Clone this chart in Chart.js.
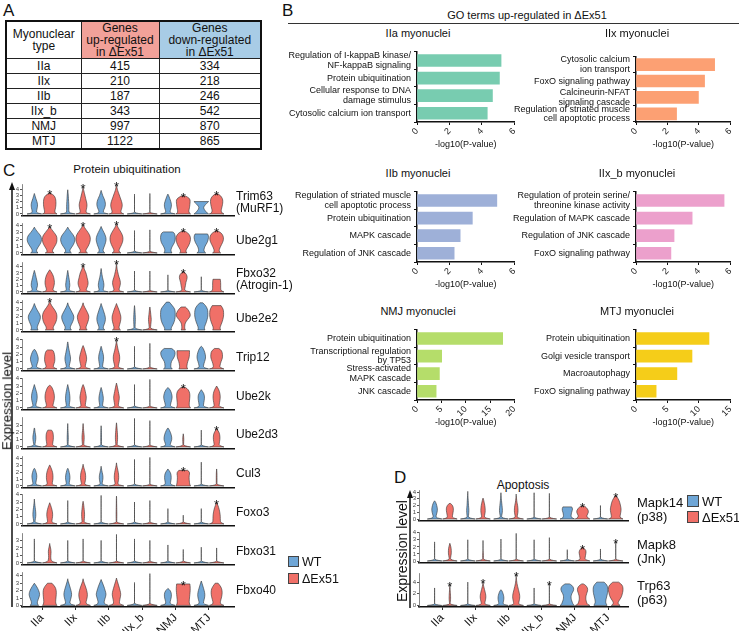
<!DOCTYPE html>
<html>
<head>
<meta charset="utf-8">
<script src="https://cdn.jsdelivr.net/npm/chart.js@4.4.1/dist/chart.umd.min.js"></script>
<style>
  body { margin: 0; background: #fff; font-family: "Liberation Sans", Arial, sans-serif; color: #111; }
  #fig { position: relative; width: 739px; height: 631px; overflow: hidden; }
  #fig canvas { position: absolute; }
  .t { position: absolute; white-space: nowrap; line-height: 1; }
  .c { transform: translate(-50%, -50%); text-align: center; }
  .letter { font-size: 17px; }
  .gene { font-size: 12px; line-height: 12px; transform: translateY(-50%); }
  .box { position: absolute; width: 11px; height: 11px; border: 1px solid #444; box-sizing: border-box; }
  table { position: absolute; left: 5px; top: 20px; width: 255px; height: 128px; border-collapse: collapse; border: 2px solid #111; font-size: 12px; text-align: center; table-layout: fixed; }
  th, td { border: 1px solid #222; padding: 0; font-weight: normal; }
  th { height: 36px; line-height: 12px; }
  td { height: 14px; line-height: 14px; }
  th.up { background: #f2a199; }
  th.down { background: #a8cce6; }
  svg { position: absolute; left: 0; top: 0; }
</style>
</head>
<body>
<div id="fig"></div>
<script>
// ---- 表 (A) ----
const TYPES = ['IIa', 'IIx', 'IIb', 'IIx_b', 'NMJ', 'MTJ'];
const UP_GENES = [415, 210, 187, 343, 997, 1122];
const DOWN_GENES = [334, 218, 246, 542, 870, 865];

// ---- GO terms (B) ----
const GO_PANELS = ['IIa myonuclei', 'IIx myonuclei', 'IIb myonuclei', 'IIx_b myonuclei', 'NMJ myonuclei', 'MTJ myonuclei'];
const GO_TERMS = [
  [['Regulation of I-kappaB kinase/', 'NF-kappaB signaling'], 'Protein ubiquitination', ['Cellular response to DNA', 'damage stimulus'], 'Cytosolic calcium ion transport'],
  [['Cytosolic calcium', 'ion transport'], 'FoxO signaling pathway', ['Calcineurin-NFAT', 'signaling cascade'], ['Regulation of striated muscle', 'cell apoptotic process']],
  [['Regulation of striated muscle', 'cell apoptotic process'], 'Protein ubiquitination', 'MAPK cascade', 'Regulation of JNK cascade'],
  [['Regulation of protein serine/', 'threonine kinase activity'], 'Regulation of MAPK cascade', 'Regulation of JNK cascade', 'FoxO signaling pathway'],
  ['Protein ubiquitination', ['Transcriptional regulation', 'by TP53'], ['Stress-activated', 'MAPK cascade'], 'JNK cascade'],
  ['Protein ubiquitination', 'Golgi vesicle transport', 'Macroautophagy', 'FoxO signaling pathway']
];
const GO_VALUES = [
  [5.18, 5.08, 4.65, 4.33],
  [5.0, 4.36, 3.97, 2.58],
  [4.92, 3.41, 2.66, 2.29],
  [5.6, 3.57, 2.42, 2.22],
  [17.6, 5.07, 4.6, 3.93],
  [11.6, 8.9, 6.5, 3.2]
];
const GO_TICKS = [[0, 2, 4, 6], [0, 2, 4, 6], [0, 2, 4, 6], [0, 2, 4, 6], [0, 5, 10, 15, 20], [0, 5, 10, 15]];
const GO_COLORS = ['#78ccb0', '#fca073', '#9eb0d8', '#eca0cc', '#b5dd6a', '#f5cd19'];

// ---- violin (C, D) ----
// 各バイオリン: [最大値, 最大値での幅, LEVELSでの幅...] 幅は 0..1
const LEVELS = [0, 0.15, 0.5, 1, 1.5, 2, 2.5, 3, 3.5, 4, 4.5, 5];

const C_GENES = [['Trim63', '(MuRF1)'], ['Ube2g1'], ['Fbxo32', '(Atrogin-1)'], ['Ube2e2'], ['Trip12'], ['Ube2k'], ['Ube2d3'], ['Cul3'], ['Foxo3'], ['Fbxo31'], ['Fbxo40']];
const C_YTICKS = [[0,1,2,3,4],[0,1,2,3,4],[0,1,2,3,4],[0,1,2,3,4],[0,1,2,3,4],[0,1,2,3,4],[0,1,2,3],[0,1,2,3,4],[0,1,2,3,4],[0,1,2,3],[0,1,2,3,4]];
const C_STARS = [[0,1,2,4,5],[0,1,2,4,5],[1,2,4],[0],[2],[4],[5],[4],[5],[],[4]];

const C_WT = [
  [[3.3,0,1,0.3,0.3,0.4,0.45,0.35,0.2,0.08],[3.9,0,1,0.2,0.15,0.15,0.15,0.12,0.1,0.07,0.04],[3.8,0,1,0.3,0.3,0.5,0.6,0.55,0.4,0.2,0.08],[3.2,0,1],[3.2,0,1,0.3,0.3,0.45,0.5,0.4,0.25,0.1],[2.0,1,1,0.8,0.55,0.25,0.55]],
  [[3.8,0,0.5,0.3,0.3,0.6,0.9,1,0.9,0.5,0.15],[3.8,0,0.5,0.3,0.3,0.65,0.9,1,0.85,0.5,0.15],[3.9,0,0.5,0.3,0.25,0.45,0.6,0.7,0.6,0.4,0.15],[3.3,0,1],[3.1,0.6,0.55,0.45,0.4,0.6,0.9,1,1,0.85],[2.8,0.85,0.6,0.4,0.35,0.5,0.8,0.95,1]],
  [[3.4,0,1,0.3,0.3,0.45,0.4,0.3,0.2,0.1],[3.4,0,1,0.2,0.2,0.3,0.25,0.2,0.12,0.06],[3.7,0,1,0.25,0.3,0.4,0.35,0.25,0.15,0.08,0.03],[3.3,0,1],[2.7,0,1],[2.4,0,1]],
  [[3.8,0,0.5,0.4,0.4,0.6,0.8,0.85,0.6,0.3,0.1],[3.9,0,0.5,0.35,0.35,0.6,0.8,0.85,0.6,0.35,0.1],[3.8,0,0.5,0.3,0.3,0.5,0.6,0.55,0.4,0.25,0.08],[3.5,0,1,0.1,0.08,0.1,0.12,0.1,0.08,0.05],[4.0,0.2,0.5,0.4,0.55,0.8,0.95,1,1,0.95,0.6],[3.9,0.2,0.5,0.4,0.45,0.65,0.8,0.9,0.9,0.85,0.6]],
  [[2.7,0,1,0.3,0.3,0.5,0.55,0.4,0.2],[3.7,0,1,0.2,0.2,0.35,0.4,0.3,0.2,0.1,0.05],[3.1,0,1,0.2,0.2,0.3,0.35,0.3,0.15,0.05],[3.1,0,1],[2.8,0.5,0.6,0.4,0.4,0.45,0.8,1,0.95],[3.1,0,1,0.3,0.3,0.45,0.6,0.55,0.4,0.15]],
  [[3.2,0,1,0.2,0.2,0.35,0.4,0.35,0.2,0.06],[3.2,0,1,0.2,0.2,0.3,0.3,0.25,0.15,0.05],[2.8,0,1,0.2,0.2,0.3,0.3,0.2,0.1],[3.2,0,1],[2.8,0,1,0.35,0.35,0.5,0.6,0.5,0.3],[2.5,0,1,0.3,0.3,0.4,0.45,0.35]],
  [[2.6,0,1,0.08,0.1,0.2,0.2,0.1,0.05],[3.2,0,1,0.05,0.05,0.08,0.07,0.05,0.03,0.02],[2.9,0,1,0.05,0.05,0.05,0.05,0.04,0.03],[3.9,0,1],[2.6,0,1,0.3,0.35,0.55,0.5,0.35,0.1],[2.3,0,1]],
  [[2.6,0,1,0.2,0.2,0.3,0.35,0.25,0.1],[2.6,0,1,0.2,0.2,0.3,0.3,0.2,0.08],[2.9,0,1,0.15,0.15,0.25,0.25,0.15,0.05],[3.9,0,1],[2.5,0,1,0.4,0.35,0.45,0.45,0.35],[3.5,0,1]],
  [[3.4,0,1,0.1,0.1,0.2,0.2,0.15,0.08,0.03],[3.2,0,1],[3.9,0,1],[3.0,0,1],[2.1,0,1],[2.1,0,1]],
  [[3.2,0,1],[3.0,0,1],[3.0,0,1],[3.2,0,1],[2.4,0,1],[2.1,0,1]],
  [[3.0,0,0.6,0.4,0.4,0.6,0.75,0.6,0.35],[3.6,0,1,0.3,0.3,0.45,0.55,0.45,0.3,0.15],[3.5,0,1,0.45,0.4,0.55,0.7,0.55,0.4,0.2],[3.1,0,1],[2.3,0,1,0.3,0.3,0.45,0.5,0.35],[3.3,0,1,0.3,0.3,0.45,0.5,0.4,0.25,0.1]]
];
const C_KO = [
  [[3.3,0.15,1,0.7,0.7,0.8,0.85,0.85,0.8,0.6],[4.3,0,1,0.4,0.4,0.5,0.55,0.45,0.35,0.25,0.15,0.05],[4.6,0,1,0.6,0.6,0.75,0.8,0.7,0.55,0.4,0.25,0.1,0.04],[3.3,0,1],[2.9,0.3,1,0.8,0.75,0.85,0.9,0.95,0.9],[3.2,0.2,1,0.7,0.6,0.7,0.8,0.85,0.8,0.5]],
  [[3.8,0,0.6,0.35,0.4,0.7,0.95,1,0.95,0.6,0.25],[4.1,0,0.6,0.35,0.4,0.7,0.9,1,0.95,0.7,0.35,0.05],[4.2,0,0.6,0.35,0.35,0.6,0.8,0.9,0.85,0.65,0.35,0.1],[3.4,0,1],[3.2,0.2,0.5,0.35,0.4,0.7,0.9,1,0.95,0.6],[3.3,0,0.55,0.35,0.35,0.55,0.8,0.95,0.9,0.6]],
  [[3.5,0,1,0.45,0.45,0.6,0.65,0.6,0.5,0.3],[4.1,0,1,0.4,0.45,0.65,0.7,0.6,0.5,0.4,0.2,0.05],[4.5,0,1,0.35,0.35,0.5,0.55,0.45,0.3,0.2,0.1,0.05],[3.3,0,1],[3.2,0,1,0.2,0.2,0.3,0.35,0.5,0.55,0.3],[2.0,0.5,1,0.6,0.55,0.55,0.55]],
  [[4.1,0,0.6,0.45,0.5,0.8,0.95,1,0.9,0.6,0.25,0.03],[3.9,0,0.55,0.4,0.4,0.6,0.75,0.8,0.6,0.35,0.1],[3.8,0,0.55,0.35,0.35,0.5,0.6,0.6,0.45,0.3,0.1],[3.3,0,1,0.1,0.1,0.15,0.2,0.15,0.1,0.05],[3.3,0.3,0.3,0.2,0.2,0.25,0.6,1,0.9,0.6],[3.5,0.6,0.55,0.45,0.5,0.7,0.85,0.95,0.95,0.9]],
  [[2.6,0.3,1,0.5,0.5,0.7,0.7,0.65,0.5],[3.2,0,1,0.3,0.3,0.45,0.5,0.4,0.25,0.1],[3.9,0,1,0.25,0.25,0.4,0.45,0.4,0.25,0.15,0.05],[3.5,0,1],[2.5,0.85,0.6,0.5,0.5,0.6,0.8,0.85],[2.8,0.3,1,0.45,0.45,0.6,0.8,0.8,0.7]],
  [[3.1,0,1,0.45,0.45,0.6,0.65,0.6,0.45,0.2],[3.2,0,1,0.3,0.3,0.4,0.45,0.35,0.25,0.1],[3.4,0,1,0.25,0.25,0.35,0.4,0.3,0.2,0.1],[3.9,0,1],[2.8,0.3,1,0.85,0.8,0.85,0.9,0.9,0.7],[3.0,0,1,0.35,0.35,0.45,0.5,0.45,0.3]],
  [[2.3,0.25,1,0.4,0.4,0.5,0.5,0.45],[3.2,0,1,0.1,0.1,0.15,0.15,0.1,0.05,0.03],[3.3,0,1,0.1,0.1,0.15,0.15,0.12,0.08,0.04],[3.6,0,1],[1.8,0,1,0.05,0.05,0.08,0.05],[2.5,0,1,0.35,0.35,0.45,0.45,0.35]],
  [[3.1,0,1,0.35,0.35,0.45,0.45,0.4,0.25,0.05],[3.2,0,1,0.2,0.25,0.35,0.35,0.3,0.15,0.03],[3.4,0,1,0.2,0.2,0.3,0.3,0.25,0.15,0.05],[4.2,0,1],[2.3,0.6,1,0.9,0.85,0.8,0.8,0.9],[2.5,0,1,0.05,0.05,0.05,0.05,0.04]],
  [[2.9,0,1,0.3,0.3,0.4,0.4,0.3,0.15],[3.1,0,1,0.15,0.15,0.2,0.2,0.15,0.1,0.03],[3.8,0,1,0.04,0.04,0.05,0.05,0.04,0.03,0.02,0.02],[3.2,0,1],[1.2,0,1],[2.9,0,1,0.55,0.5,0.5,0.45,0.35,0.2]],
  [[2.6,0,1,0.3,0.15,0.15,0.2,0.12],[3.2,0,1],[3.8,0,1],[3.0,0,1],[1.8,0,1],[2.0,0,1]],
  [[3.0,0.3,1,0.85,0.8,0.85,0.9,0.9,0.75],[3.6,0,1,0.4,0.4,0.55,0.6,0.5,0.35,0.15],[3.7,0,1,0.4,0.4,0.5,0.6,0.5,0.35,0.2,0.05],[4.3,0,1],[2.9,0.9,1,0.85,0.8,0.85,0.9,0.95,0.95],[3.0,0.2,1,0.5,0.5,0.65,0.75,0.75,0.6]]
];

const D_GENES = [['Mapk14', '(p38)'], ['Mapk8', '(Jnk)'], ['Trp63', '(p63)']];
const D_YTICKS = [[0,1,2,3,4],[0,1,2,3,4],[0,2,4]];
const D_STARS = [[4,5],[4,5],[0,1,2,3]];
const D_WT = [
  [[2.7,0,1,0.2,0.2,0.35,0.4,0.3,0.15],[4.1,0,1,0.1,0.1,0.15,0.15,0.1,0.08,0.05,0.02],[3.9,0,1,0.1,0.1,0.2,0.2,0.15,0.1,0.05,0.02],[3.9,0,1],[1.8,0.6,1,0.6,0.5,0.6,0.75],[2.0,0,1]],
  [[2.7,0,1],[3.0,0,1],[3.1,0,1],[3.0,0,1],[1.6,0,1],[1.7,0,1]],
  [[3.0,0,1],[4.0,0,1],[2.7,0,1,0.3,0.3,0.4,0.4,0.3,0.15],[3.0,0,1],[3.7,0.3,1,0.8,0.7,0.55,0.5,0.6,0.85,0.9,0.6],[4.0,0.5,0.9,0.85,0.7,0.75,0.85,0.95,1,1,0.9]]
];
const D_KO = [
  [[2.3,0.1,1,0.35,0.35,0.45,0.5,0.4],[3.1,0,1,0.2,0.2,0.3,0.3,0.25,0.15,0.05],[3.7,0,1,0.15,0.15,0.25,0.25,0.2,0.1,0.05],[3.8,0,1],[1.9,0.3,1,0.7,0.55,0.85,0.7],[3.4,0.1,1,0.6,0.6,0.7,0.75,0.65,0.55,0.35]],
  [[2.5,0,1,0.1,0.1,0.2,0.2,0.15],[2.9,0,1,0.05,0.05,0.05],[3.9,0,1],[3.3,0,1],[1.9,0.1,1,0.35,0.35,0.45,0.5],[2.7,0,1]],
  [[3.5,0,1,0.05,0.05,0.1,0.1,0.08,0.05,0.03],[4.0,0,1,0.25,0.25,0.35,0.4,0.35,0.25,0.15,0.05],[5.3,0,1,0.35,0.35,0.45,0.5,0.45,0.35,0.25,0.15,0.08,0.04],[3.7,0,1],[3.7,0.1,1,0.7,0.55,0.45,0.45,0.55,0.7,0.7,0.4],[4.0,0.4,0.6,0.4,0.3,0.55,0.8,0.9,1,1,0.9]]
];

const WT_COLOR = '#6fa6d6';
const KO_COLOR = '#f07068';

Chart.defaults.font.family = '"Liberation Sans", Arial, sans-serif';
Chart.defaults.color = '#111';

const fig = document.getElementById('fig');

function addText(html, x, y, cls, style) {
  const d = document.createElement('div');
  d.className = 't ' + (cls || '');
  d.innerHTML = html;
  d.style.left = x + 'px';
  d.style.top = y + 'px';
  if (style) d.style.cssText += style;
  fig.appendChild(d);
  return d;
}

function addCanvas(left, top, w, h) {
  const cv = document.createElement('canvas');
  cv.width = w; cv.height = h;
  cv.style.left = left + 'px';
  cv.style.top = top + 'px';
  fig.appendChild(cv);
  return cv;
}

// ---- A: 表 ----
let html = '<colgroup><col style="width:75px"><col style="width:78px"><col style="width:102px"></colgroup>';
html += '<tr><th>Myonuclear<br>type</th><th class="up">Genes<br>up-regulated<br>in ΔEx51</th><th class="down">Genes<br>down-regulated<br>in ΔEx51</th></tr>';
TYPES.forEach((t, i) => {
  html += '<tr><td>' + t + '</td><td>' + UP_GENES[i] + '</td><td>' + DOWN_GENES[i] + '</td></tr>';
});
const table = document.createElement('table');
table.innerHTML = html;
fig.appendChild(table);

addText('A', 3, 2, 'letter');
addText('B', 282, 2, 'letter');
addText('C', 3, 162, 'letter');
addText('D', 394, 469, 'letter');

// ---- B: GO棒グラフ ----
addText('GO terms up-regulated in ΔEx51', 527, 15, 'c', 'font-size:11px');
const rule = document.createElement('div');
rule.style.cssText = 'position:absolute;left:288px;top:23px;width:451px;border-top:1.2px solid #333';
fig.appendChild(rule);

const GO_ROW_OFF = [0, 140, 278];

function goChart(k) {
  const col = k % 2;
  const off = GO_ROW_OFF[Math.floor(k / 2)];
  const left = col ? 498 : 278;
  const areaL = col ? 636 : 417;
  const areaR = col ? 737 : 518;
  const w = areaR - left + (col ? 2 : 5);
  const cv = addCanvas(left, 44 + off, w, 106);
  const ticks = GO_TICKS[k];
  addText(GO_PANELS[k], areaL + 1, 33 + off, 'c', 'font-size:11px');
  new Chart(cv, {
    type: 'bar',
    data: {
      labels: GO_TERMS[k],
      datasets: [{ data: GO_VALUES[k], backgroundColor: GO_COLORS[k], barThickness: 12 }]
    },
    options: {
      indexAxis: 'y',
      responsive: false,
      animation: false,
      events: [],
      layout: { padding: { top: 6, right: w - (areaR - left), left: 0, bottom: 0 } },
      plugins: { legend: { display: false }, tooltip: { enabled: false } },
      scales: {
        x: {
          min: 0, max: ticks[ticks.length - 1],
          afterBuildTicks: s => { s.ticks = ticks.map(v => ({ value: v })); },
          afterFit: s => { s.height = 28; },
          ticks: { autoSkip: false, minRotation: 45, maxRotation: 45, font: { size: 9 }, color: '#222', padding: 1 },
          grid: { drawOnChartArea: false, tickLength: 3, color: '#111' },
          border: { color: '#111', width: 1.5 },
          title: { display: true, text: '-log10(P-value)', font: { size: 9 }, color: '#111', padding: 0 }
        },
        y: {
          afterFit: s => { s.width = areaL - left; },
          ticks: { autoSkip: false, font: { size: 9, lineHeight: 1.05 }, color: '#111', padding: 3 },
          grid: { drawOnChartArea: false, tickLength: 3, color: '#111' },
          border: { color: '#111', width: 1.5 }
        }
      }
    }
  });
}
for (let k = 0; k < 6; k++) goChart(k);

// ---- バイオリン描画プラグイン ----
function smoothTo(ctx, p) {
  ctx.lineTo(p[0][0], p[0][1]);
  for (let i = 1; i < p.length - 1; i++) {
    ctx.quadraticCurveTo(p[i][0], p[i][1], (p[i][0] + p[i + 1][0]) / 2, (p[i][1] + p[i + 1][1]) / 2);
  }
  ctx.lineTo(p[p.length - 1][0], p[p.length - 1][1]);
}

const violinPlugin = {
  id: 'violins',
  afterDatasetsDraw(chart) {
    const ctx = chart.ctx, xs = chart.scales.x, ys = chart.scales.y;
    const half = 0.22 * (xs.getPixelForValue(1) - xs.getPixelForValue(0));
    ctx.save();
    ctx.lineWidth = 0.6;
    ctx.strokeStyle = '#333';
    ctx.lineJoin = 'round';
    chart.data.datasets.forEach(ds => {
      ds.profiles.forEach((v, i) => {
        const cx = xs.getPixelForValue(ds.data[i].x);
        const top = v[0];
        const pts = [];
        for (let k = 0; k < LEVELS.length && LEVELS[k] < top; k++) pts.push([v[2 + k] || 0, LEVELS[k]]);
        pts.push([v[1], top]);
        const right = pts.map(p => [cx + p[0] * half, ys.getPixelForValue(p[1])]);
        const left = pts.map(p => [cx - p[0] * half, ys.getPixelForValue(p[1])]).reverse();
        ctx.beginPath();
        ctx.moveTo(left[left.length - 1][0], left[left.length - 1][1]);
        smoothTo(ctx, right);
        smoothTo(ctx, left);
        ctx.closePath();
        ctx.fillStyle = ds.backgroundColor;
        ctx.fill();
        ctx.stroke();
      });
      (ds.stars || []).forEach(i => {
        const cx = xs.getPixelForValue(ds.data[i].x);
        ctx.fillStyle = '#111';
        ctx.font = '13px "Liberation Sans", Arial, sans-serif';
        ctx.textAlign = 'center';
        ctx.textBaseline = 'alphabetic';
        ctx.fillText('*', cx, ys.getPixelForValue(ds.profiles[i][0]) + 6);
      });
    });
    ctx.restore();
  }
};

function violinRow(cfg) {
  const cv = addCanvas(cfg.left, cfg.top, cfg.w, cfg.h);
  const ymax = Math.max(...cfg.wt.concat(cfg.ko).map(v => v[0]));
  new Chart(cv, {
    type: 'scatter',
    data: {
      datasets: [
        { label: 'WT', data: cfg.wt.map((v, i) => ({ x: i - 0.23, y: v[0] })), profiles: cfg.wt, backgroundColor: WT_COLOR, pointRadius: 0 },
        { label: 'ΔEx51', data: cfg.ko.map((v, i) => ({ x: i + 0.23, y: v[0] })), profiles: cfg.ko, stars: cfg.stars, backgroundColor: KO_COLOR, pointRadius: 0 }
      ]
    },
    options: {
      responsive: false,
      animation: false,
      events: [],
      layout: { padding: { top: cfg.padTop, right: cfg.padRight, left: 0, bottom: 0 } },
      plugins: { legend: { display: false }, tooltip: { enabled: false } },
      scales: {
        x: {
          type: 'linear', min: cfg.xmin, max: cfg.xmax,
          afterBuildTicks: s => { s.ticks = TYPES.map((t, i) => ({ value: i })); },
          afterFit: s => { s.height = cfg.xh; },
          ticks: { display: cfg.bottom, autoSkip: false, callback: v => TYPES[v], minRotation: 45, maxRotation: 45, font: { size: 11.5 }, color: '#111', padding: 1 },
          grid: { display: cfg.bottom, drawOnChartArea: false, tickLength: 3, color: '#333' },
          border: { display: true, color: '#111', width: 1.5 }
        },
        y: {
          min: -0.05 * ymax, max: 1.05 * ymax,
          afterBuildTicks: s => { s.ticks = cfg.yticks.map(v => ({ value: v })); },
          afterFit: s => { s.width = cfg.yw; },
          ticks: { autoSkip: false, font: { size: 6 }, color: '#444', padding: 1 },
          grid: { drawOnChartArea: false, tickLength: 2, color: '#555' },
          border: { color: '#555', width: 0.7 }
        }
      }
    },
    plugins: [violinPlugin]
  });
}

// ---- C ----
addText('Protein ubiquitination', 127, 170, 'c', 'font-size:11.5px');
C_GENES.forEach((g, i) => {
  const base = 219 + 38.8 * i;
  const bottom = i === C_GENES.length - 1;
  violinRow({
    left: 0, top: base - 45, w: 236, h: 45 + (bottom ? 26 : 1),
    padTop: 10, padRight: 2, yw: 22, xh: bottom ? 26 : 1, bottom: bottom,
    xmin: -0.6, xmax: 5.75,
    wt: C_WT[i], ko: C_KO[i], stars: C_STARS[i], yticks: C_YTICKS[i]
  });
  addText(g.join('<br>'), 236, base - 17.5, 'gene');
});
addText('Expression level', 7, 401, 'c', 'font-size:13.5px;transform:translate(-50%,-50%) rotate(-90deg)');

// 凡例 C
[['WT', WT_COLOR, 556], ['ΔEx51', KO_COLOR, 573]].forEach(l => {
  const b = document.createElement('div');
  b.className = 'box';
  b.style.cssText += 'left:288px;top:' + l[2] + 'px;background:' + l[1];
  fig.appendChild(b);
  addText(l[0], 302, l[2] - 0.5, '', 'font-size:12.5px');
});

// ---- D ----
addText('Apoptosis', 523, 485, 'c', 'font-size:12px');
const D_BASE = [524, 566, 607];
D_GENES.forEach((g, i) => {
  const base = D_BASE[i];
  const bottom = i === D_GENES.length - 1;
  violinRow({
    left: 395, top: base - 44, w: 235, h: 44 + (bottom ? 24 : 1),
    padTop: 10, padRight: 2, yw: 24, xh: bottom ? 24 : 1, bottom: bottom,
    xmin: -0.7, xmax: 5.6,
    wt: D_WT[i], ko: D_KO[i], stars: D_STARS[i], yticks: D_YTICKS[i]
  });
  addText(g.join('<br>'), 637, base - 14, 'gene', 'font-size:13px;line-height:14px');
});
addText('Expression level', 402, 551, 'c', 'font-size:14px;transform:translate(-50%,-50%) rotate(-90deg)');

[['WT', WT_COLOR, 495], ['ΔEx51', KO_COLOR, 511]].forEach(l => {
  const b = document.createElement('div');
  b.className = 'box';
  b.style.cssText += 'left:687px;top:' + l[2] + 'px;width:12px;height:12px;background:' + l[1];
  fig.appendChild(b);
  addText(l[0], 702, l[2] - 0.5, '', 'font-size:13px');
});

// 矢印 (y軸)
const svgNS = 'http://www.w3.org/2000/svg';
const svg = document.createElementNS(svgNS, 'svg');
svg.setAttribute('width', 739);
svg.setAttribute('height', 631);
svg.innerHTML =
  '<line x1="12" y1="188" x2="12" y2="607" stroke="#111" stroke-width="1.5"/>' +
  '<polygon points="12,182 9,190 15,190" fill="#111"/>' +
  '<line x1="410" y1="496" x2="410" y2="608" stroke="#111" stroke-width="1.5"/>' +
  '<polygon points="410,490 407,498 413,498" fill="#111"/>';
fig.appendChild(svg);
</script>
</body>
</html>
